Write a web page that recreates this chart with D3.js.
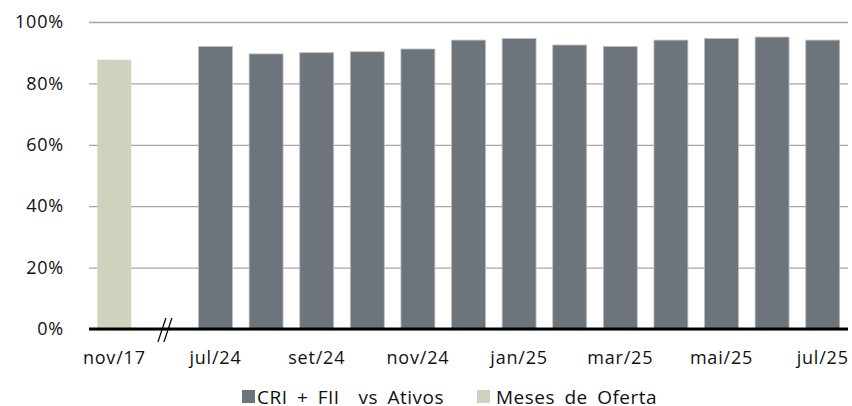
<!DOCTYPE html>
<html>
<head>
<meta charset="utf-8">
<script src="https://cdn.jsdelivr.net/npm/d3@7"></script>
<style>
  body { margin: 0; background: #fff; overflow: hidden; }
  svg { display: block; }
  text { font-family: "Open Sans", sans-serif; fill: #111; white-space: pre; }
</style>
</head>
<body>
<div id="chart"></div>
<script>
const months = ['nov/17', '', 'jul/24', 'ago/24', 'set/24', 'out/24', 'nov/24', 'dez/24',
                'jan/25', 'fev/25', 'mar/25', 'abr/25', 'mai/25', 'jun/25', 'jul/25']
const criFii = [null, null, 92.0, 89.6, 90.0, 90.3, 91.2, 94.1, 94.6, 92.5, 92.0, 94.1, 94.6, 95.1, 94.1]
const oferta = [87.7, null, null, null, null, null, null, null, null, null, null, null, null, null, null]
const yTicks = [0, 20, 40, 60, 80, 100]
const legendNames = ['CRI + FII  vs Ativos', 'Meses de Oferta']

const width = 852
const height = 406
const marginLeft = 89
const marginRight = 4
const marginTop = 22
const marginBottom = 77
const innerWidth = width - marginLeft - marginRight
const innerHeight = height - marginTop - marginBottom
const font = '"Open Sans", sans-serif'

const darkColor = '#6d747b'
const lightColor = '#cdd3bc'

const svg = d3.select('#chart')
              .append('svg')
              .attr('width', width)
              .attr('height', height)

const g = svg.append('g')
             .attr('transform', `translate(${marginLeft}, ${marginTop})`)

const x = d3.scaleBand()
            .domain(d3.range(months.length))
            .range([0, innerWidth])
            .paddingInner(0.33)
            .paddingOuter(0.165)

const y = d3.scaleLinear()
            .domain([0, 100])
            .range([innerHeight, 0])

// gridlines + y labels
g.append('g')
 .call(d3.axisLeft(y).tickValues(yTicks).tickSize(-innerWidth).tickFormat(d => d + '%').tickPadding(25))
 .call(a => a.select('.domain').remove())
 .call(a => a.selectAll('.tick line').attr('stroke', '#a6a6a6').attr('stroke-width', 1.3))
 .call(a => a.selectAll('.tick text').attr('font-size', 18).attr('font-family', font)
            .attr('letter-spacing', 0.8).attr('fill', '#111'))

const rows = months.map((m, i) => ({ i, cri: criFii[i], of: oferta[i] }))

g.selectAll('.bar-cri')
 .data(rows.filter(d => d.cri != null))
 .enter().append('rect')
 .attr('class', 'bar-cri')
 .attr('x', d => x(d.i))
 .attr('y', d => y(d.cri))
 .attr('width', x.bandwidth())
 .attr('height', d => y(0) - y(d.cri))
 .attr('fill', darkColor)
 .attr('stroke', '#b8bcc0')
 .attr('stroke-width', 0.8)

g.selectAll('.bar-of')
 .data(rows.filter(d => d.of != null))
 .enter().append('rect')
 .attr('class', 'bar-of')
 .attr('x', d => x(d.i))
 .attr('y', d => y(d.of))
 .attr('width', x.bandwidth())
 .attr('height', d => y(0) - y(d.of))
 .attr('fill', lightColor)

// baseline
g.append('line')
 .attr('x1', 0).attr('x2', innerWidth)
 .attr('y1', y(0)).attr('y2', y(0))
 .attr('stroke', '#000')
 .attr('stroke-width', 3)

// axis break marks in the empty slot
const bx = x(1) + x.bandwidth() / 2
;[-3, 3].forEach(off => {
  g.append('line')
   .attr('x1', bx + off - 4).attr('y1', y(0) + 13)
   .attr('x2', bx + off + 4).attr('y2', y(0) - 11)
   .attr('stroke', '#000')
   .attr('stroke-width', 1.2)
})

// x labels every other month
g.append('g')
 .attr('transform', `translate(0, ${innerHeight})`)
 .call(d3.axisBottom(x).tickSize(0).tickPadding(22)
         .tickValues(d3.range(0, months.length, 2))
         .tickFormat(i => months[i]))
 .call(a => a.select('.domain').remove())
 .call(a => a.selectAll('.tick text').attr('font-size', 18).attr('font-family', font)
            .attr('letter-spacing', 0.8).attr('fill', '#111'))

// legend
const legend = svg.append('g').attr('transform', 'translate(242, 390)')
const items = [
  { name: legendNames[0], color: darkColor, x: 0, tx: 15 },
  { name: legendNames[1], color: lightColor, x: 235, tx: 19 }
]
items.forEach(it => {
  legend.append('rect')
        .attr('x', it.x).attr('y', 0)
        .attr('width', 13).attr('height', 13)
        .attr('fill', it.color)
  legend.append('text')
        .attr('x', it.x + it.tx).attr('y', 14)
        .attr('font-size', 19)
        .attr('font-family', font)
        .attr('letter-spacing', 0.5)
        .attr('word-spacing', 4)
        .text(it.name)
})
</script>
</body>
</html>
